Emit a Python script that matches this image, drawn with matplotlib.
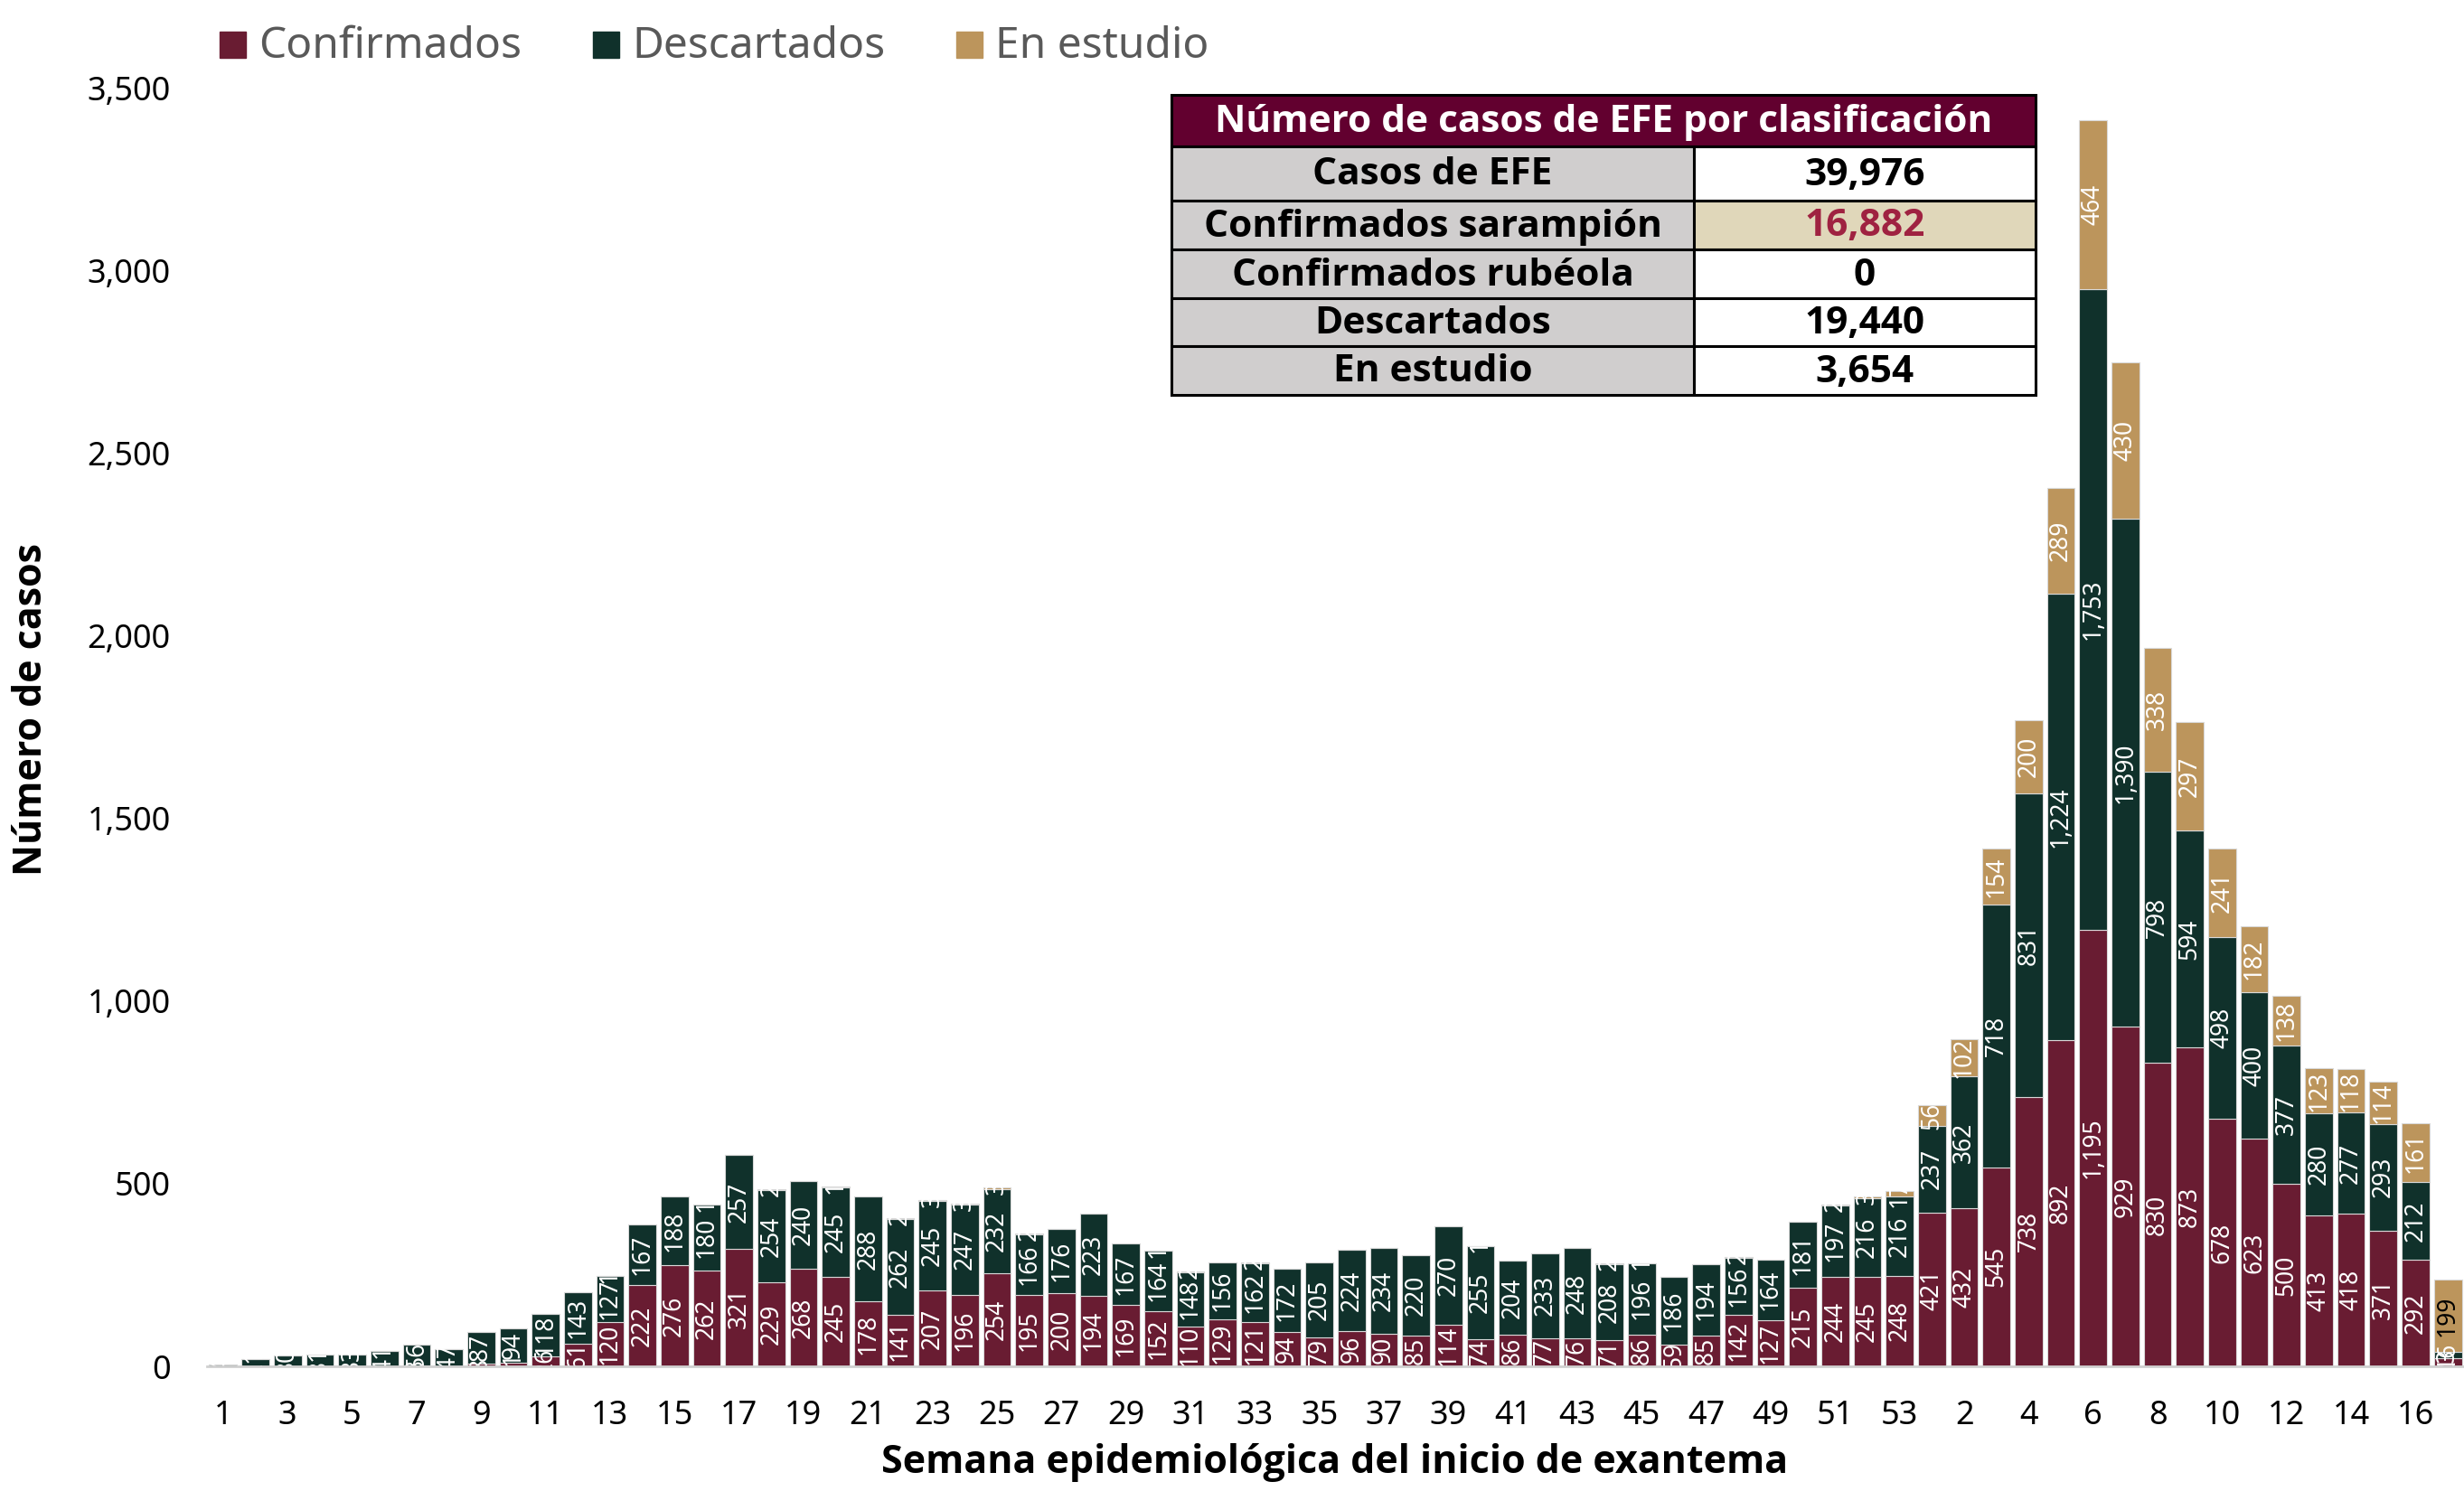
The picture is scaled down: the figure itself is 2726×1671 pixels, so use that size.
import matplotlib
matplotlib.use('Agg')
import matplotlib.pyplot as plt
from matplotlib.patches import Rectangle
from matplotlib.ticker import FuncFormatter, MultipleLocator

plt.rcParams['font.family'] = ['Noto Sans', 'DejaVu Sans']
BOLD_FAMILY = ['Open Sans', 'Noto Sans', 'DejaVu Sans']

# ---------------- data ----------------
weeks = [str(i) for i in range(1, 54)] + [str(i) for i in range(1, 18)]

confirmados = [1, 0, 0, 0, 0, 0, 3, 0, 8, 11,
               26, 61, 120, 222, 276, 262, 321, 229, 268, 245,
               178, 141, 207, 196, 254, 195, 200, 194, 169, 152,
               110, 129, 121, 94, 79, 96, 90, 85, 114, 74,
               86, 77, 76, 71, 86, 59, 85, 142, 127, 215,
               244, 245, 248,
               421, 432, 545, 738, 892, 1195, 929, 830, 873, 678,
               623, 500, 413, 418, 371, 292, 23]

descartados = [4, 21, 30, 31, 33, 41, 56, 47, 87, 94,
               118, 143, 127, 167, 188, 180, 257, 254, 240, 245,
               288, 262, 245, 247, 232, 166, 176, 223, 167, 164,
               148, 156, 162, 172, 205, 224, 234, 220, 270, 255,
               204, 233, 248, 208, 196, 186, 194, 156, 164, 181,
               197, 216, 216,
               237, 362, 718, 831, 1224, 1753, 1390, 798, 594, 498,
               400, 377, 280, 277, 293, 212, 16]

en_estudio = [0, 0, 0, 0, 0, 0, 0, 0, 0, 0,
              0, 0, 1, 0, 0, 1, 0, 2, 0, 1,
              0, 2, 3, 3, 3, 2, 0, 0, 0, 1,
              2, 0, 2, 0, 0, 0, 0, 0, 0, 1,
              0, 0, 0, 2, 1, 0, 0, 2, 0, 0,
              2, 3, 17,
              56, 102, 154, 200, 289, 464, 430, 338, 297, 241,
              182, 138, 123, 118, 114, 161, 199]

series_names = ['Confirmados', 'Descartados', 'En estudio']
series_colors = ['#691C32', '#10312B', '#BC955C']

table_title = 'Número de casos de EFE por clasificación'
table_labels = ['Casos de EFE', 'Confirmados sarampión', 'Confirmados rubéola',
                'Descartados', 'En estudio']
table_values = ['39,976', '16,882', '0', '19,440', '3,654']

x_label = 'Semana epidemiológica del inicio de exantema'
y_label = 'Número de casos'

# ---------------- figure ----------------
W, H = 2726, 1671
fig = plt.figure(figsize=(W / 100, H / 100), dpi=100)


def fx(px):
    return px / W


def fy(py):
    return 1 - py / H


ax = fig.add_axes([fx(229), fy(1512), fx(2726) - fx(229), fy(97) - fy(1512)])

xs = list(range(len(weeks)))
series = [confirmados, descartados, en_estudio]
bottoms = [0] * len(weeks)
bar_w = 0.86
for si, (vals, col) in enumerate(zip(series, series_colors)):
    ax.bar(xs, vals, width=bar_w, bottom=bottoms, color=col,
           edgecolor='#D9D9D9', linewidth=0.8, zorder=2)
    for i, v in enumerate(vals):
        if v <= 0:
            continue
        color = 'white'
        if si == 2 and i == len(weeks) - 1:
            color = 'black'
        ax.text(i, bottoms[i] + v / 2, f'{v:,}', rotation=90,
                ha='center', va='center', fontsize=19, color=color,
                zorder=3, clip_on=False)
    bottoms = [b + v for b, v in zip(bottoms, vals)]

ax.set_xlim(-0.5, len(weeks) - 0.5)
ax.set_ylim(0, 3500)
ax.yaxis.set_major_locator(MultipleLocator(500))
ax.yaxis.set_major_formatter(FuncFormatter(lambda v, p: f'{int(v):,}'))
ax.set_xticks(xs[::2])
ax.set_xticklabels(weeks[::2])
ax.tick_params(axis='both', length=0, labelsize=26, colors='black')
ax.tick_params(axis='y', pad=29)
ax.tick_params(axis='x', pad=27)
for s in ['top', 'right', 'left']:
    ax.spines[s].set_visible(False)
ax.spines['bottom'].set_color('#D0D0D0')
ax.spines['bottom'].set_linewidth(2)
ax.spines['bottom'].set_zorder(4)

# axis titles
fig.text(fx(1477), fy(1618), x_label, ha='center', va='center',
         fontsize=31, fontweight='bold', color='black', family=BOLD_FAMILY)
fig.text(fx(35), fy(785), y_label, ha='center', va='center', rotation=90,
         fontsize=31, fontweight='bold', color='black', family=BOLD_FAMILY)

# legend (manual)
leg_sq = [243, 656, 1058]
for name, col, x0 in zip(series_names, series_colors, leg_sq):
    fig.patches.append(Rectangle((fx(x0), fy(64)), fx(29), 29 / H,
                                 transform=fig.transFigure, color=col))
    fig.text(fx(x0 + 43), fy(52), name, ha='left', va='center',
             fontsize=34.5, color='#595959')

# summary table
tx0, tsplit, tx1 = 1296, 1874, 2252
rows_y = [105, 162, 222, 276, 330, 383, 437]
lw = 2.2
fig.patches.append(Rectangle((fx(tx0), fy(rows_y[1])), fx(tx1 - tx0),
                             (rows_y[1] - rows_y[0]) / H,
                             transform=fig.transFigure, facecolor='#62002F',
                             edgecolor='black', linewidth=lw))
fig.text(fx((tx0 + tx1) / 2), fy((rows_y[0] + rows_y[1]) / 2 + 2), table_title,
         ha='center', va='center', fontsize=30.5, fontweight='bold', color='white',
         family=BOLD_FAMILY)
for r, (lab, val) in enumerate(zip(table_labels, table_values)):
    ytop, ybot = rows_y[r + 1], rows_y[r + 2]
    h = (ybot - ytop) / H
    fig.patches.append(Rectangle((fx(tx0), fy(ybot)), fx(tsplit - tx0), h,
                                 transform=fig.transFigure, facecolor='#D0CECE',
                                 edgecolor='black', linewidth=lw))
    vbg = '#E0D7BA' if r == 1 else 'white'
    vcol = '#9F2241' if r == 1 else 'black'
    fig.patches.append(Rectangle((fx(tsplit), fy(ybot)), fx(tx1 - tsplit), h,
                                 transform=fig.transFigure, facecolor=vbg,
                                 edgecolor='black', linewidth=lw))
    yc = fy((ytop + ybot) / 2 + 2)
    fig.text(fx((tx0 + tsplit) / 2), yc, lab, ha='center', va='center',
             fontsize=30.5, fontweight='bold', color='black', family=BOLD_FAMILY)
    fig.text(fx((tsplit + tx1) / 2), yc, val, ha='center', va='center',
             fontsize=30.5, fontweight='bold', color=vcol, family=BOLD_FAMILY)

fig.savefig('out.png', dpi=100)
